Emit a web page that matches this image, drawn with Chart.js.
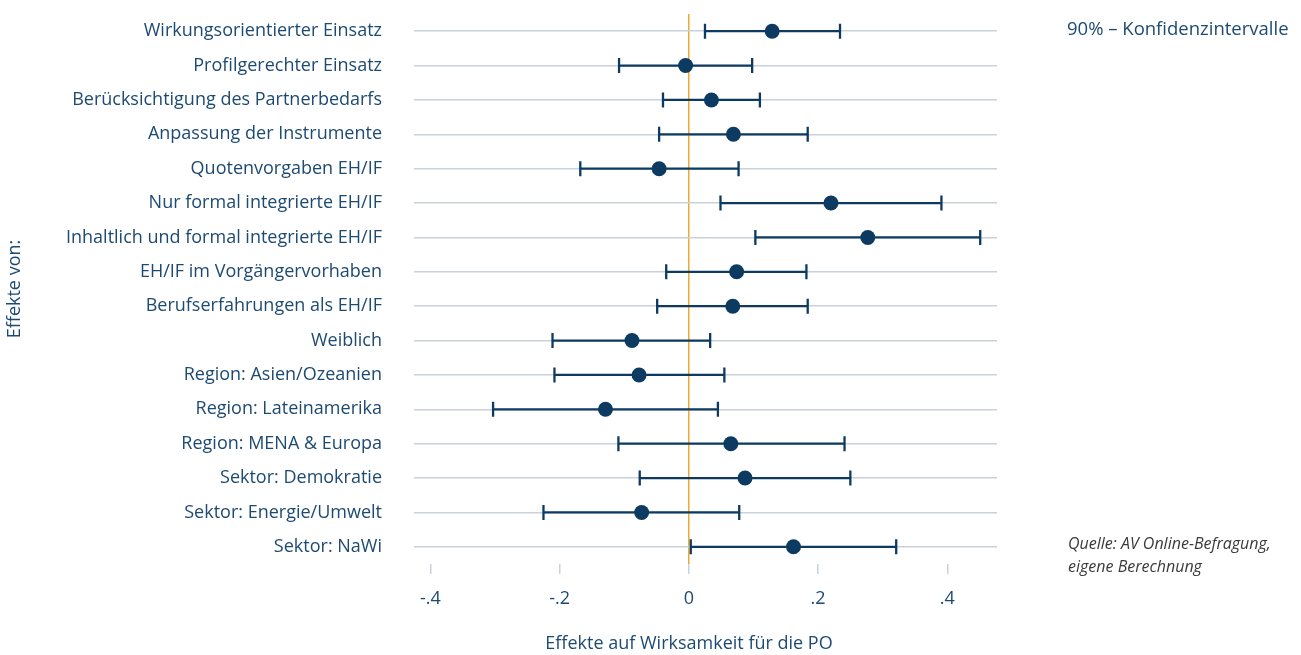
<!DOCTYPE html>
<html lang="de">
<head>
<meta charset="utf-8">
<title>Effekte auf Wirksamkeit für die PO</title>
<script src="https://cdn.jsdelivr.net/npm/chart.js@4/dist/chart.umd.min.js"></script>
<style>
  html, body { margin: 0; padding: 0; background: #ffffff; }
  #wrap { position: relative; width: 1301px; height: 655px; overflow: hidden; }
  #chart { position: absolute; left: 0; top: 0; }
  .note { position: absolute; font-family: "Open Sans", sans-serif; white-space: nowrap; }
  #xtitle { left: 489px; width: 400px; top: 630px; text-align: center; font-size: 18px; color: #1d4a72; line-height: 24px; }
  #ci { left: 1067px; top: 15px; font-size: 18.5px; color: #1d4a72; line-height: 26px; }
  #src { left: 1068px; top: 532px; font-size: 16px; font-style: italic; color: #3a3a3a; line-height: 23px; }
</style>
</head>
<body>
<div id="wrap">
  <canvas id="chart" width="1301" height="655"></canvas>
  <div class="note" id="xtitle">Effekte auf Wirksamkeit für die PO</div>
  <div class="note" id="ci">90% – Konfidenzintervalle</div>
  <div class="note" id="src">Quelle: AV Online-Befragung,<br>eigene Berechnung</div>
</div>
<script>
// Predictors, top to bottom
const categories = [
  'Wirkungsorientierter Einsatz',
  'Profilgerechter Einsatz',
  'Berücksichtigung des Partnerbedarfs',
  'Anpassung der Instrumente',
  'Quotenvorgaben EH/IF',
  'Nur formal integrierte EH/IF',
  'Inhaltlich und formal integrierte EH/IF',
  'EH/IF im Vorgängervorhaben',
  'Berufserfahrungen als EH/IF',
  'Weiblich',
  'Region: Asien/Ozeanien',
  'Region: Lateinamerika',
  'Region: MENA & Europa',
  'Sektor: Demokratie',
  'Sektor: Energie/Umwelt',
  'Sektor: NaWi'
];

// Point estimates and 90% confidence bounds
const estimates   = [0.129, -0.005, 0.035, 0.069, -0.046, 0.220, 0.277, 0.074, 0.068, -0.088, -0.077, -0.129, 0.065, 0.087, -0.073, 0.162];
const lowerBounds = [0.025, -0.108, -0.040, -0.046, -0.168, 0.049, 0.103, -0.035, -0.049, -0.211, -0.208, -0.303, -0.109, -0.076, -0.225, 0.003];
const upperBounds = [0.234, 0.098, 0.110, 0.184, 0.077, 0.391, 0.451, 0.182, 0.184, 0.033, 0.055, 0.045, 0.241, 0.250, 0.078, 0.321];

// X axis ticks
const tickValues = [-0.4, -0.2, 0, 0.2, 0.4];
const tickLabels = ['-.4', '-.2', '0', '.2', '.4'];

const NAVY = '#0c3a61';
const TEXT = '#1d4a72';
const GRID = '#c9d1dc';
const ZERO = '#f0a733';
const FONT = '"Open Sans", sans-serif';

// One horizontal interval (with end caps) per predictor
const intervalSets = categories.map((c, i) => ({
  data: [{ x: lowerBounds[i], y: c }, { x: upperBounds[i], y: c }],
  showLine: true,
  borderColor: NAVY,
  borderWidth: 2.3,
  pointStyle: 'line',
  pointRotation: 90,
  pointRadius: 7.5,
  pointHoverRadius: 7.5,
  pointBorderColor: NAVY,
  pointBorderWidth: 2.3,
  order: 2
}));

const pointSet = {
  data: categories.map((c, i) => ({ x: estimates[i], y: c })),
  pointStyle: 'circle',
  pointRadius: 7.5,
  pointHoverRadius: 7.5,
  backgroundColor: NAVY,
  borderColor: NAVY,
  borderWidth: 0,
  order: 1
};

new Chart(document.getElementById('chart'), {
  type: 'scatter',
  data: { datasets: [pointSet, ...intervalSets] },
  options: {
    responsive: false,
    animation: false,
    events: [],
    layout: { padding: { left: 0, right: 304, top: 14, bottom: 0 } },
    plugins: { legend: { display: false }, tooltip: { enabled: false } },
    scales: {
      x: {
        type: 'linear',
        min: -0.4254,
        max: 0.477,
        afterBuildTicks: (scale) => { scale.ticks = tickValues.map(v => ({ value: v })); },
        afterFit: (scale) => { scale.height = 91; scale.paddingLeft = 0; scale.paddingRight = 0; },
        border: { display: false },
        grid: {
          color: (ctx) => (ctx.tick && ctx.tick.value === 0 ? ZERO : 'rgba(0,0,0,0)'),
          lineWidth: 1.5,
          tickColor: GRID,
          tickLength: 10,
          tickWidth: 1.5
        },
        ticks: {
          callback: (v) => { const k = tickValues.indexOf(v); return k >= 0 ? tickLabels[k] : ''; },
          color: TEXT,
          font: { family: FONT, size: 18 },
          padding: 14,
          maxRotation: 0,
          autoSkip: false
        }
      },
      y: {
        type: 'category',
        labels: categories,
        offset: true,
        afterFit: (scale) => { scale.width = 414; scale.paddingTop = 0; scale.paddingBottom = 0; },
        border: { display: false },
        grid: { offset: false, color: GRID, lineWidth: 1.5, drawTicks: false },
        ticks: {
          color: TEXT,
          font: { family: FONT, size: 18 },
          padding: 32,
          autoSkip: false
        },
        title: {
          display: true,
          text: 'Effekte von:',
          color: TEXT,
          font: { family: FONT, size: 18 },
          padding: { top: 4, bottom: 0 }
        }
      }
    }
  }
});
</script>
</body>
</html>
